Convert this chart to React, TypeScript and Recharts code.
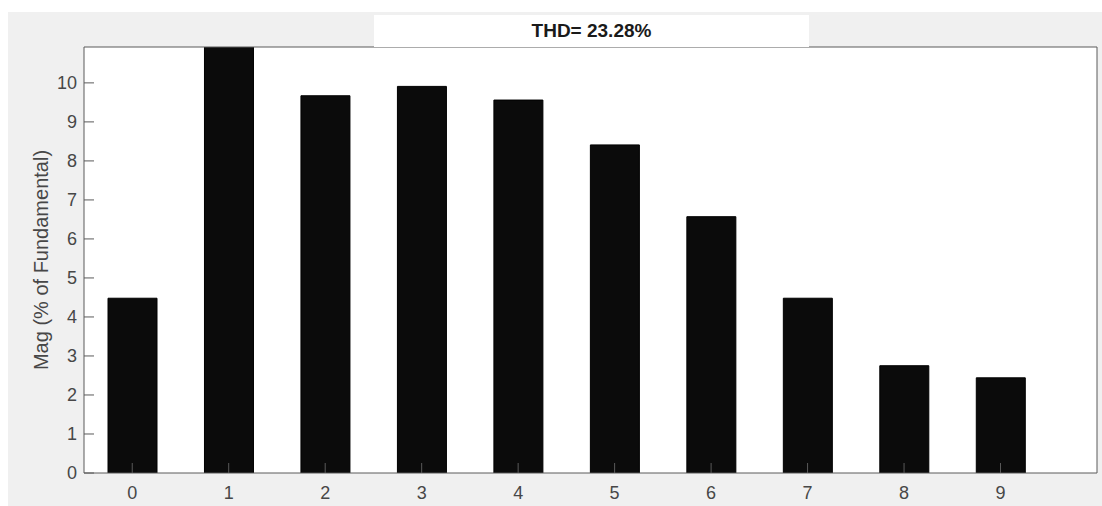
import React from "react";
import { ComposedChart, Bar, XAxis, YAxis, CartesianGrid } from "recharts";

// harmonic order and magnitude (% of fundamental)
const orders = [0, 1, 2, 3, 4, 5, 6, 7, 8, 9];
const mags = [4.48, 11.5, 9.67, 9.91, 9.56, 8.41, 6.57, 4.48, 2.75, 2.44];
const yTicks = [0, 1, 2, 3, 4, 5, 6, 7, 8, 9, 10];
const thdLabel = "THD= 23.28%";

const data = orders.map((o, i) => ({ order: o, mag: mags[i] }));

const axisColor = "#5a5a5a";
const textColor = "#474747";
const font = "'Liberation Sans', Arial, sans-serif";

export default function App() {
  return (
    <div
      style={{
        position: "absolute",
        left: 8,
        top: 12,
        width: 1094,
        height: 494,
        background: "#f0f0f0",
        fontFamily: font,
      }}
    >
      <ComposedChart
        width={1094}
        height={494}
        data={data}
        margin={{ top: 34, right: 4, bottom: 0, left: 0 }}
      >
        <CartesianGrid fill="#ffffff" horizontal={false} vertical={false} />
        <XAxis
          dataKey="order"
          type="number"
          domain={[-0.5, 10]}
          ticks={orders}
          allowDataOverflow
          height={33}
          stroke={axisColor}
          tickSize={-10}
          tickMargin={23}
          tick={{ fill: textColor, fontSize: 18, fontFamily: font }}
        />
        <XAxis
          xAxisId="top"
          dataKey="order"
          type="number"
          orientation="top"
          domain={[-0.5, 10]}
          ticks={orders}
          allowDataOverflow
          height={1}
          stroke={axisColor}
          tickSize={-10}
          tick={false}
        />
        <YAxis
          type="number"
          domain={[0, 10.92]}
          ticks={yTicks}
          allowDataOverflow
          width={76}
          stroke={axisColor}
          tickSize={-10}
          tickMargin={17}
          tick={{ fill: textColor, fontSize: 18, fontFamily: font }}
          label={{
            value: "Mag (% of Fundamental)",
            angle: -90,
            position: "center",
            dx: -5,
            fill: textColor,
            fontSize: 20,
            fontFamily: font,
          }}
        />
        <YAxis
          yAxisId="right"
          type="number"
          orientation="right"
          domain={[0, 10.92]}
          ticks={yTicks}
          allowDataOverflow
          width={1}
          stroke={axisColor}
          tickSize={-10}
          tick={false}
        />
        <Bar
          dataKey="mag"
          fill="#0b0b0b"
          stroke="#000"
          barSize={49}
          isAnimationActive={false}
        />
      </ComposedChart>
      <div
        style={{
          position: "absolute",
          left: 366,
          top: 3,
          width: 435,
          height: 32,
          background: "#ffffff",
          textAlign: "center",
          lineHeight: "32px",
          fontWeight: "bold",
          fontSize: 19,
          color: "#1a1a1a",
        }}
      >
        {thdLabel}
      </div>
    </div>
  );
}
